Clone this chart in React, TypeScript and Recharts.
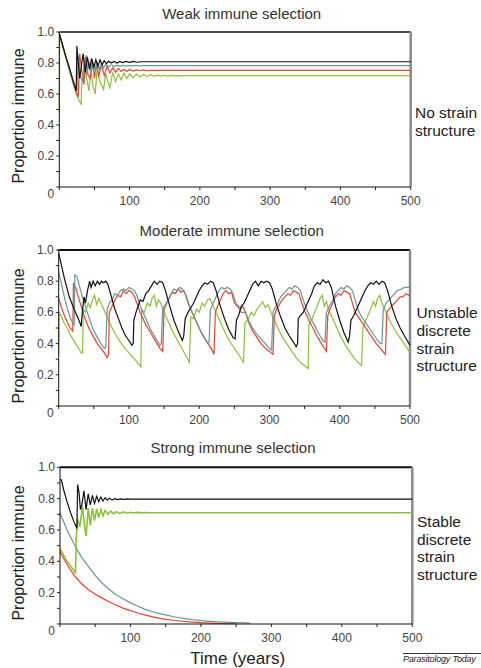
import React from "react";
import { LineChart, Line, XAxis, YAxis, ReferenceLine } from "recharts";

type Pair = [number, number];

// ---- tick values ----
const xTicks = [0, 50, 100, 150, 200, 250, 300, 350, 400, 450, 500];
const xLabels = [100, 200, 300, 400, 500];
const yTicks = [0, 0.1, 0.2, 0.3, 0.4, 0.5, 0.6, 0.7, 0.8, 0.9, 1.0];
const yLabels = [0, 0.2, 0.4, 0.6, 0.8, 1.0];

// ---- weak immune selection: [time, proportion] ----
const weakBlack: Pair[] = [
  [0, 0.99], [5, 0.91], [10, 0.83], [15, 0.76], [20, 0.68], [24, 0.62], [25, 0.91], [27, 0.8], [29, 0.7],
  [32, 0.8], [34, 0.86], [37, 0.74], [40, 0.84], [43, 0.76], [46, 0.83], [49, 0.77], [52, 0.82], [55, 0.78],
  [58, 0.82], [61, 0.79], [64, 0.815], [67, 0.795], [70, 0.812], [74, 0.8], [78, 0.81], [82, 0.8], [86, 0.81],
  [90, 0.803], [95, 0.81], [100, 0.804], [105, 0.81], [110, 0.805], [115, 0.808], [500, 0.808],
];
const weakTeal: Pair[] = [
  [0, 0.99], [5, 0.91], [10, 0.83], [15, 0.75], [20, 0.68], [25, 0.62], [27, 0.84], [30, 0.72], [33, 0.68],
  [36, 0.83], [39, 0.72], [42, 0.81], [45, 0.73], [48, 0.8], [51, 0.75], [54, 0.8], [57, 0.76], [60, 0.795],
  [63, 0.77], [66, 0.79], [70, 0.775], [74, 0.788], [78, 0.777], [82, 0.786], [86, 0.779], [90, 0.785],
  [95, 0.78], [100, 0.785], [105, 0.781], [110, 0.784], [115, 0.782], [120, 0.783], [500, 0.783],
];
const weakRed: Pair[] = [
  [0, 0.99], [5, 0.91], [10, 0.83], [15, 0.75], [20, 0.67], [25, 0.6], [27, 0.58], [29, 0.86], [32, 0.75],
  [35, 0.66], [38, 0.85], [41, 0.72], [44, 0.7], [47, 0.82], [50, 0.7], [53, 0.8], [56, 0.71], [60, 0.79],
  [64, 0.72], [68, 0.78], [72, 0.735], [76, 0.77], [80, 0.74], [84, 0.765], [88, 0.745], [92, 0.76],
  [96, 0.745], [100, 0.758], [105, 0.748], [110, 0.756], [115, 0.75], [120, 0.755], [125, 0.75],
  [130, 0.753], [500, 0.753],
];
const weakGreen: Pair[] = [
  [0, 0.48], [0.5, 0.98], [5, 0.9], [10, 0.82], [15, 0.74], [20, 0.66], [25, 0.59], [28, 0.56], [31, 0.53],
  [32, 0.67], [34, 0.72], [36, 0.78], [39, 0.7], [42, 0.62], [45, 0.76], [48, 0.65], [51, 0.6], [54, 0.77],
  [57, 0.69], [60, 0.66], [63, 0.63], [66, 0.73], [69, 0.68], [72, 0.64], [76, 0.74], [80, 0.68], [84, 0.73],
  [88, 0.69], [92, 0.735], [96, 0.7], [100, 0.73], [105, 0.705], [110, 0.728], [115, 0.71], [120, 0.726],
  [125, 0.712], [130, 0.724], [135, 0.714], [140, 0.722], [145, 0.715], [150, 0.721], [155, 0.716],
  [160, 0.72], [165, 0.717], [170, 0.719], [175, 0.717], [180, 0.718], [500, 0.718],
];

// ---- moderate immune selection ----
const modBlack: Pair[] = [
  [0, 0.98], [3, 0.92], [8, 0.82], [15, 0.7], [22, 0.62], [28, 0.56], [32, 0.51], [34, 0.62], [36, 0.7],
  [38, 0.66], [41, 0.74], [44, 0.8], [46, 0.76], [49, 0.8], [52, 0.77], [55, 0.8], [58, 0.78], [61, 0.8],
  [64, 0.79], [67, 0.8], [70, 0.78], [75, 0.7], [80, 0.62], [85, 0.56], [90, 0.5], [95, 0.45], [100, 0.42],
  [104, 0.39], [106, 0.4], [107, 0.55], [110, 0.6], [113, 0.64], [116, 0.68], [120, 0.67], [124, 0.72],
  [128, 0.74], [132, 0.77], [136, 0.8], [140, 0.78], [144, 0.8], [148, 0.79], [152, 0.74], [158, 0.64],
  [164, 0.55], [170, 0.48], [176, 0.42], [178, 0.45], [180, 0.56], [184, 0.6], [188, 0.63], [192, 0.66],
  [196, 0.7], [200, 0.74], [204, 0.77], [208, 0.79], [212, 0.78], [216, 0.8], [220, 0.79], [224, 0.74],
  [230, 0.64], [236, 0.56], [242, 0.49], [248, 0.44], [251, 0.43], [253, 0.55], [256, 0.58], [260, 0.64],
  [264, 0.66], [268, 0.7], [272, 0.74], [276, 0.78], [280, 0.8], [284, 0.77], [288, 0.8], [292, 0.79],
  [296, 0.8], [300, 0.79], [304, 0.75], [310, 0.65], [316, 0.57], [322, 0.5], [328, 0.45], [334, 0.41],
  [338, 0.38], [340, 0.4], [341, 0.56], [344, 0.58], [348, 0.6], [352, 0.64], [356, 0.68], [360, 0.72],
  [364, 0.77], [368, 0.79], [372, 0.78], [376, 0.81], [380, 0.79], [384, 0.8], [388, 0.76], [394, 0.64],
  [400, 0.55], [406, 0.47], [412, 0.41], [414, 0.45], [416, 0.55], [420, 0.58], [424, 0.62], [428, 0.66],
  [432, 0.7], [436, 0.74], [440, 0.77], [444, 0.79], [448, 0.78], [452, 0.8], [456, 0.78], [460, 0.8],
  [464, 0.79], [468, 0.74], [474, 0.64], [480, 0.56], [486, 0.5], [492, 0.45], [496, 0.42], [500, 0.39],
];
const modTeal: Pair[] = [
  [0, 0.86], [4, 0.78], [8, 0.7], [12, 0.63], [16, 0.57], [20, 0.53], [22, 0.52], [23, 0.84], [26, 0.83],
  [30, 0.76], [35, 0.68], [40, 0.61], [45, 0.54], [50, 0.48], [55, 0.44], [60, 0.4], [65, 0.37], [67, 0.38],
  [69, 0.62], [72, 0.66], [76, 0.68], [80, 0.72], [84, 0.71], [88, 0.74], [92, 0.75], [96, 0.74], [100, 0.76],
  [104, 0.75], [108, 0.74], [112, 0.7], [116, 0.64], [120, 0.6], [124, 0.56], [128, 0.52], [132, 0.48],
  [136, 0.45], [140, 0.42], [144, 0.39], [146, 0.4], [148, 0.62], [152, 0.65], [156, 0.68], [160, 0.72],
  [164, 0.75], [168, 0.74], [172, 0.76], [176, 0.75], [180, 0.72], [184, 0.66], [188, 0.62], [192, 0.58],
  [196, 0.54], [200, 0.5], [204, 0.46], [208, 0.43], [212, 0.4], [214, 0.41], [216, 0.62], [220, 0.66],
  [224, 0.7], [228, 0.74], [232, 0.76], [236, 0.75], [240, 0.76], [244, 0.75], [248, 0.72], [252, 0.66],
  [256, 0.64], [260, 0.6], [266, 0.6], [270, 0.55], [276, 0.5], [282, 0.46], [288, 0.43], [294, 0.4],
  [300, 0.37], [303, 0.36], [305, 0.6], [308, 0.63], [312, 0.66], [316, 0.7], [320, 0.72], [324, 0.74],
  [328, 0.76], [332, 0.75], [336, 0.77], [340, 0.76], [344, 0.74], [348, 0.68], [352, 0.63], [356, 0.59],
  [360, 0.55], [364, 0.52], [368, 0.48], [372, 0.45], [376, 0.42], [379, 0.41], [381, 0.6], [385, 0.64],
  [390, 0.68], [394, 0.72], [398, 0.74], [402, 0.76], [406, 0.75], [410, 0.77], [414, 0.76], [418, 0.74],
  [422, 0.68], [426, 0.62], [430, 0.58], [436, 0.54], [442, 0.5], [448, 0.46], [454, 0.42], [458, 0.4],
  [460, 0.4], [462, 0.62], [466, 0.66], [470, 0.68], [474, 0.7], [478, 0.72], [482, 0.74], [488, 0.75],
  [492, 0.76], [496, 0.76], [500, 0.76],
];
const modRed: Pair[] = [
  [0, 0.69], [4, 0.63], [8, 0.58], [12, 0.54], [16, 0.5], [20, 0.48], [21, 0.79], [24, 0.76], [28, 0.7],
  [32, 0.64], [36, 0.58], [40, 0.53], [45, 0.48], [50, 0.44], [55, 0.4], [60, 0.37], [65, 0.34], [69, 0.31],
  [71, 0.33], [72, 0.6], [76, 0.64], [80, 0.68], [84, 0.71], [88, 0.7], [92, 0.74], [96, 0.72], [100, 0.74],
  [104, 0.73], [108, 0.7], [112, 0.65], [116, 0.6], [120, 0.56], [124, 0.52], [128, 0.49], [132, 0.46],
  [136, 0.43], [140, 0.4], [144, 0.37], [148, 0.35], [150, 0.62], [154, 0.66], [158, 0.7], [162, 0.73],
  [166, 0.72], [170, 0.75], [174, 0.73], [178, 0.74], [182, 0.7], [186, 0.64], [190, 0.6], [194, 0.56],
  [198, 0.52], [202, 0.48], [206, 0.45], [210, 0.42], [214, 0.39], [218, 0.36], [221, 0.33], [223, 0.6],
  [226, 0.64], [230, 0.68], [234, 0.72], [238, 0.74], [242, 0.72], [246, 0.73], [250, 0.66], [254, 0.64],
  [258, 0.62], [262, 0.64], [266, 0.6], [270, 0.54], [276, 0.48], [282, 0.44], [288, 0.4], [294, 0.37],
  [300, 0.35], [305, 0.33], [307, 0.58], [310, 0.62], [314, 0.65], [318, 0.68], [322, 0.7], [326, 0.72],
  [330, 0.71], [334, 0.74], [338, 0.73], [342, 0.72], [346, 0.66], [350, 0.61], [354, 0.57], [358, 0.53],
  [362, 0.5], [366, 0.46], [370, 0.43], [374, 0.4], [378, 0.37], [381, 0.35], [383, 0.58], [386, 0.62],
  [390, 0.66], [394, 0.7], [398, 0.72], [402, 0.71], [406, 0.74], [410, 0.73], [414, 0.72], [418, 0.66],
  [422, 0.6], [428, 0.56], [434, 0.52], [440, 0.48], [446, 0.44], [452, 0.4], [458, 0.37], [463, 0.34],
  [465, 0.33], [467, 0.6], [470, 0.62], [474, 0.64], [478, 0.66], [482, 0.68], [486, 0.7], [490, 0.7],
  [494, 0.72], [498, 0.71], [500, 0.72],
];
const modGreen: Pair[] = [
  [0, 0.33], [0.5, 0.6], [4, 0.57], [8, 0.53], [12, 0.5], [16, 0.46], [20, 0.43], [24, 0.4], [28, 0.37],
  [32, 0.34], [34, 0.34], [35, 0.62], [38, 0.6], [42, 0.66], [45, 0.63], [48, 0.68], [51, 0.71], [54, 0.65],
  [57, 0.69], [60, 0.66], [64, 0.62], [70, 0.56], [76, 0.5], [82, 0.45], [88, 0.41], [94, 0.37], [100, 0.34],
  [106, 0.31], [112, 0.28], [117, 0.25], [118, 0.62], [122, 0.6], [126, 0.66], [130, 0.64], [133, 0.69],
  [136, 0.71], [139, 0.64], [142, 0.68], [145, 0.66], [150, 0.6], [156, 0.54], [162, 0.48], [168, 0.43],
  [174, 0.38], [180, 0.33], [186, 0.28], [188, 0.57], [192, 0.56], [196, 0.62], [200, 0.6], [204, 0.66],
  [208, 0.64], [212, 0.68], [215, 0.69], [220, 0.64], [226, 0.58], [232, 0.52], [238, 0.46], [244, 0.41],
  [250, 0.37], [256, 0.33], [263, 0.28], [265, 0.53], [270, 0.56], [274, 0.6], [278, 0.58], [282, 0.62],
  [286, 0.64], [290, 0.67], [294, 0.63], [298, 0.65], [302, 0.6], [308, 0.54], [314, 0.48], [320, 0.43],
  [326, 0.39], [332, 0.35], [338, 0.31], [344, 0.28], [350, 0.26], [355, 0.24], [356, 0.52], [360, 0.55],
  [364, 0.6], [368, 0.64], [372, 0.69], [375, 0.71], [378, 0.64], [381, 0.67], [384, 0.62], [390, 0.56],
  [396, 0.5], [402, 0.44], [408, 0.39], [414, 0.35], [420, 0.31], [426, 0.28], [431, 0.26], [433, 0.5],
  [436, 0.54], [440, 0.58], [444, 0.62], [448, 0.67], [451, 0.64], [454, 0.69], [457, 0.71], [460, 0.66],
  [466, 0.6], [472, 0.54], [478, 0.49], [484, 0.45], [490, 0.41], [496, 0.37], [500, 0.34],
];

// ---- strong immune selection ----
const strongBlack: Pair[] = [
  [0, 0.92], [2, 0.92], [5, 0.86], [10, 0.78], [15, 0.71], [20, 0.65], [23, 0.62], [24, 0.61], [25, 0.89],
  [27, 0.84], [29, 0.73], [31, 0.76], [34, 0.85], [37, 0.73], [40, 0.83], [43, 0.76], [46, 0.82], [49, 0.77],
  [52, 0.815], [55, 0.78], [58, 0.81], [61, 0.785], [64, 0.806], [67, 0.79], [70, 0.803], [74, 0.792],
  [78, 0.8], [82, 0.794], [86, 0.799], [90, 0.795], [95, 0.798], [100, 0.797], [500, 0.797],
];
const strongGreen: Pair[] = [
  [0, 0.48], [5, 0.44], [10, 0.4], [15, 0.37], [20, 0.34], [22, 0.32], [23, 0.55], [25, 0.67], [28, 0.62],
  [32, 0.75], [35, 0.62], [37, 0.56], [40, 0.74], [43, 0.63], [46, 0.74], [49, 0.66], [52, 0.735], [55, 0.68],
  [58, 0.73], [61, 0.69], [64, 0.725], [68, 0.7], [72, 0.72], [76, 0.703], [80, 0.717], [85, 0.706],
  [90, 0.715], [95, 0.707], [100, 0.713], [105, 0.708], [110, 0.712], [115, 0.709], [120, 0.711],
  [130, 0.71], [500, 0.71],
];
const strongTeal: Pair[] = [
  [0, 0.71], [10, 0.6], [20, 0.51], [30, 0.43], [40, 0.37], [50, 0.31], [60, 0.26], [70, 0.22], [80, 0.185],
  [90, 0.16], [100, 0.135], [110, 0.115], [120, 0.095], [130, 0.08], [140, 0.068], [150, 0.058], [160, 0.048],
  [170, 0.04], [180, 0.033], [190, 0.027], [200, 0.022], [220, 0.015], [240, 0.01], [270, 0.005],
];
const strongRed: Pair[] = [
  [0, 0.46], [10, 0.38], [20, 0.31], [30, 0.26], [40, 0.22], [50, 0.19], [60, 0.165], [70, 0.14], [80, 0.12],
  [90, 0.1], [100, 0.085], [110, 0.07], [120, 0.058], [130, 0.047], [140, 0.038], [150, 0.03], [160, 0.024],
  [170, 0.019], [180, 0.015], [200, 0.009], [225, 0.004], [250, 0.002],
];

const FONT = '"Liberation Sans", Arial, Helvetica, sans-serif';
const BLACK = "#111111";
const TEAL = "#6a9597";
const RED = "#e8462e";
const GREEN = "#8cc23a";
const Y_AXIS_W = 40;

const toPts = (a: Pair[]) => a.map(([t, v]) => ({ t, v }));

const YTick: React.FC<any> = ({ x, y, payload }) => {
  const v = payload.value;
  const major = yLabels.some((l) => Math.abs(l - v) < 1e-6);
  return (
    <g>
      <line x1={x} x2={x - 3} y1={y} y2={y} stroke="#222" strokeWidth={1} />
      {major && (
        <text x={x - 5} y={v === 0 ? y + 7 : y} textAnchor="end" dominantBaseline="central"
          fontSize={12} fill="#444" fontFamily={FONT}>
          {v === 0 ? "0" : v.toFixed(1)}
        </text>
      )}
    </g>
  );
};

const XTick: React.FC<any> = ({ x, y, payload }) => {
  const v = payload.value;
  return (
    <g>
      <line x1={x} x2={x} y1={y} y2={y + 3} stroke="#222" strokeWidth={1} />
      {xLabels.includes(v) && (
        <text x={x} y={y + 14} textAnchor="middle" dominantBaseline="central"
          fontSize={12} fill="#444" fontFamily={FONT}>
          {v}
        </text>
      )}
    </g>
  );
};

interface PanelProps {
  top: number;
  height: number;
  plotTop: number;
  plotLeft: number;
  plotRight: number;
  axisH: number;
  topW: number;
  series: { data: Pair[]; color: string; w?: number }[];
}

const Panel: React.FC<PanelProps> = ({ top, height, plotTop, plotLeft, plotRight, axisH, topW, series }) => (
  <div style={{ position: "absolute", left: 0, top }}>
    <LineChart width={481} height={height}
      margin={{ top: plotTop, left: plotLeft - Y_AXIS_W, right: 481 - plotRight, bottom: 0 }}>
      <XAxis type="number" dataKey="t" domain={[0, 500]} ticks={xTicks} interval={0}
        tick={<XTick />} tickLine={false} tickSize={0} tickMargin={0} height={axisH}
        axisLine={{ stroke: "#111", strokeWidth: 1 }} />
      <YAxis type="number" domain={[0, 1]} ticks={yTicks} interval={0}
        tick={<YTick />} tickLine={false} tickSize={0} tickMargin={0} width={Y_AXIS_W}
        axisLine={{ stroke: "#111", strokeWidth: 1 }} />
      <ReferenceLine y={1} stroke="#111" strokeWidth={topW} />
      <ReferenceLine x={500} stroke="#8a8a8a" strokeWidth={2.5} />
      {series.map((s, i) => (
        <Line key={i} data={toPts(s.data)} dataKey="v" type="linear" stroke={s.color}
          strokeWidth={s.w ?? 1.2} dot={false} isAnimationActive={false} />
      ))}
    </LineChart>
  </div>
);

const abs = (left: number, top: number, extra: React.CSSProperties = {}): React.CSSProperties => ({
  position: "absolute", left, top, whiteSpace: "nowrap", fontFamily: FONT, ...extra,
});

const Title: React.FC<{ x: number; y: number; text: string }> = ({ x, y, text }) => (
  <div style={abs(x, y, { transform: "translate(-50%, -50%)", fontSize: 15, color: "#333", lineHeight: 1 })}>
    {text}
  </div>
);

const YLabel: React.FC<{ y: number }> = ({ y }) => (
  <div style={abs(19, y, { transform: "translate(-50%, -50%) rotate(-90deg)", fontSize: 16, color: "#222", lineHeight: 1 })}>
    Proportion immune
  </div>
);

const SideLabel: React.FC<{ x: number; y: number; lines: string[] }> = ({ x, y, lines }) => (
  <div style={abs(x, y, { fontSize: 15.5, color: "#222", lineHeight: "17.8px" })}>
    {lines.map((l) => <div key={l}>{l}</div>)}
  </div>
);

export default function App() {
  return (
    <div style={{ position: "absolute", left: 0, top: 0, width: 481, height: 668, background: "#fff", overflow: "hidden" }}>
      <Panel top={0} height={215} plotTop={32} plotLeft={59.3} plotRight={410.7} axisH={28} topW={1.3}
        series={[
          { data: weakGreen, color: GREEN },
          { data: weakRed, color: RED },
          { data: weakTeal, color: TEAL },
          { data: weakBlack, color: BLACK },
        ]} />
      <Panel top={220} height={215} plotTop={30} plotLeft={58.7} plotRight={410} axisH={29} topW={2}
        series={[
          { data: modGreen, color: GREEN },
          { data: modRed, color: RED },
          { data: modTeal, color: TEAL },
          { data: modBlack, color: BLACK },
        ]} />
      <Panel top={440} height={212} plotTop={27.3} plotLeft={60} plotRight={412.3} axisH={28} topW={2}
        series={[
          { data: strongRed, color: RED },
          { data: strongTeal, color: TEAL },
          { data: strongGreen, color: GREEN, w: 1.6 },
          { data: strongBlack, color: BLACK },
        ]} />

      <Title x={241.7} y={13} text="Weak immune selection" />
      <Title x={231.7} y={230} text="Moderate immune selection" />
      <Title x={233} y={447} text="Strong immune selection" />

      <YLabel y={116} />
      <YLabel y={336} />
      <YLabel y={552.5} />

      <SideLabel x={415} y={104} lines={["No strain", "structure"]} />
      <SideLabel x={416.5} y={304} lines={["Unstable", "discrete", "strain", "structure"]} />
      <SideLabel x={417} y={512.8} lines={["Stable", "discrete", "strain", "structure"]} />

      <div style={abs(237.7, 657.7, { transform: "translate(-50%, -50%)", fontSize: 17, color: "#222", lineHeight: 1 })}>
        Time (years)
      </div>
      <div style={abs(403, 652.5, { width: 78, borderTop: "1px solid #333", fontSize: 9, fontStyle: "italic", color: "#222", lineHeight: "11px", letterSpacing: -0.2 })}>
        Parasitology Today
      </div>
    </div>
  );
}
